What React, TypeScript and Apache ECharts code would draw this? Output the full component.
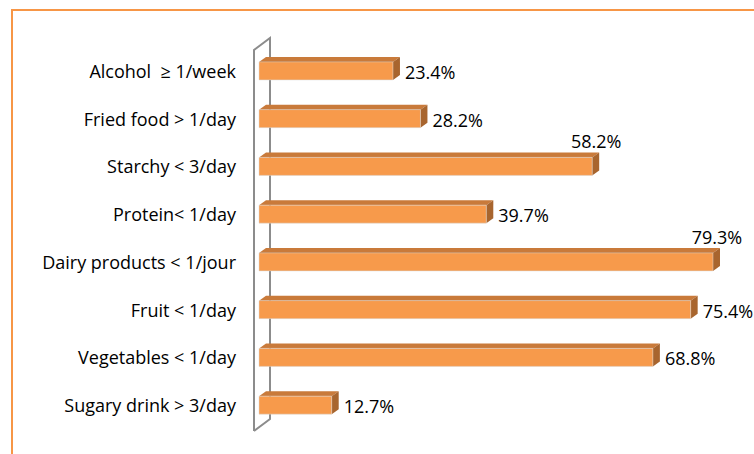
import React, { useEffect, useRef } from "react";
import * as echarts from "echarts";

const categories = [
  "Alcohol  ≥ 1/week",
  "Fried food > 1/day",
  "Starchy < 3/day",
  "Protein< 1/day",
  "Dairy products < 1/jour",
  "Fruit < 1/day",
  "Vegetables < 1/day",
  "Sugary drink > 3/day",
];
const values = [23.4, 28.2, 58.2, 39.7, 79.3, 75.4, 68.8, 12.7];
const labelsAbove = ["Starchy < 3/day", "Dairy products < 1/jour"];

const FONT = "'Open Sans', sans-serif";
const FRONT = "#F79A4B";
const TOP = "#C97A3A";
const SIDE = "#A8652E";

export default function App() {
  const ref = useRef<HTMLDivElement>(null);
  useEffect(() => {
    document.body.style.margin = "0";
    const chart = echarts.init(ref.current!, null, { renderer: "svg" });
    const data = values.map((v, i) => [v, i]);
    const renderItem = (params: any, api: any) => {
      const idx = api.value(1);
      const v = api.value(0);
      const end = api.coord([v, idx]);
      const start = api.coord([0, idx]);
      const c = end[1];
      const x0 = start[0];
      const xv = end[0];
      const h = 9;
      const dx = 7;
      const dy = 5;
      const children: any[] = [];
      if (params.dataIndex === 0) {
        const cs = params.coordSys;
        const l = cs.x - 5;
        const r = cs.x + 11;
        const top = cs.y;
        const bot = cs.y + cs.height;
        children.push({
          type: "polyline",
          shape: {
            points: [
              [l, bot + 2],
              [l, top + 3],
              [r, top - 9],
              [r, bot - 10],
              [l, bot + 2],
            ],
          },
          style: { stroke: "#8C8C8C", lineWidth: 2, fill: "none" },
        });
      }
      children.push(
        {
          type: "polygon",
          shape: { points: [[x0, c - h], [x0 + dx, c - h - dy], [xv + dx, c - h - dy], [xv, c - h]] },
          style: { fill: TOP },
        },
        {
          type: "polygon",
          shape: { points: [[xv, c - h], [xv + dx, c - h - dy], [xv + dx, c + h - dy], [xv, c + h]] },
          style: { fill: SIDE },
        },
        {
          type: "rect",
          shape: { x: x0, y: c - h, width: xv - x0, height: 2 * h },
          style: { fill: FRONT, stroke: "#D9D9D9", lineWidth: 0.5 },
        }
      );
      const above = labelsAbove.indexOf(categories[idx]) >= 0;
      children.push({
        type: "text",
        style: {
          text: v.toFixed(1) + "%",
          x: above ? xv + 4 : xv + dx + 5,
          y: above ? c - 25 : c + 1,
          align: above ? "center" : "left",
          verticalAlign: "middle",
          fill: "#000",
          fontSize: 18,
          fontFamily: FONT,
        },
      });
      return { type: "group", children };
    };
    chart.setOption({
      animation: false,
      graphic: [
        {
          type: "rect",
          shape: { x: 12, y: 10, width: 800, height: 500 },
          style: { fill: "none", stroke: "#F79646", lineWidth: 2 },
          z: 100,
        },
      ],
      grid: { left: 259, top: 47, height: 382, width: 458 },
      xAxis: { type: "value", min: 0, max: 80, show: false },
      yAxis: {
        type: "category",
        data: categories,
        inverse: true,
        axisLine: { show: false },
        axisTick: { show: false },
        splitLine: { show: false },
        axisLabel: { color: "#000", fontSize: 18, fontFamily: FONT, margin: 23 },
      },
      series: [
        {
          type: "custom",
          renderItem,
          data,
          encode: { x: 0, y: 1 },
          clip: false,
        },
      ],
    });
    return () => chart.dispose();
  }, []);
  return <div ref={ref} style={{ width: 754, height: 454 }} />;
}
